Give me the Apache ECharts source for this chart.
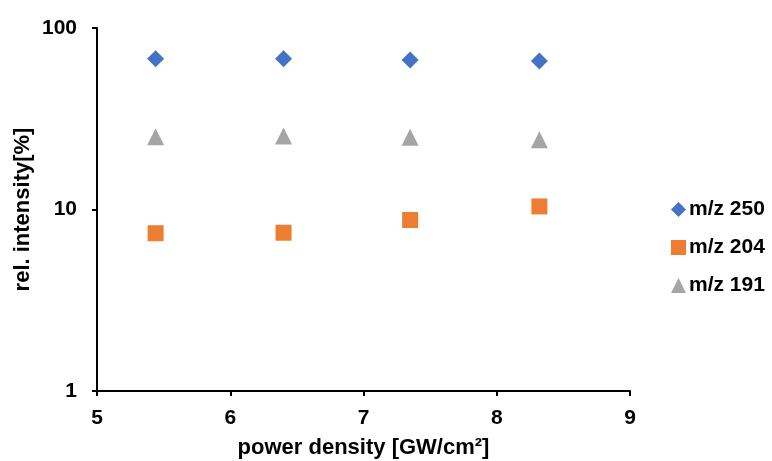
<!DOCTYPE html>
<html>
<head>
<meta charset="utf-8">
<script src="https://cdn.jsdelivr.net/npm/echarts@6/dist/echarts.min.js"></script>
<style>
  html, body { margin: 0; padding: 0; background: #fff; }
  #chart { width: 772px; height: 461px; }
</style>
</head>
<body>
<div id="chart"></div>
<script>
// Power density values [GW/cm²]
const powerDensity = [5.44, 6.40, 7.35, 8.32];
// Relative intensities [%] for each fragment
const mz250 = [67.8, 67.6, 66.6, 65.8];
const mz204 = [7.4, 7.45, 8.75, 10.4];
const mz191 = [25.2, 25.4, 25.0, 24.2];

const seriesNames = ['m/z 250', 'm/z 204', 'm/z 191'];
const seriesColors = ['#4472C4', '#ED7D31', '#A5A5A5'];
const seriesSymbols = ['diamond', 'rect', 'triangle'];
const seriesValues = [mz250, mz204, mz191];

const font = 'Liberation Sans, Arial, sans-serif';

const chart = echarts.init(document.getElementById('chart'));
chart.setOption({
  animation: false,
  grid: { left: 97, right: 142, top: 28, bottom: 70, containLabel: false, outerBoundsMode: 'none' },
  legend: {
    orient: 'vertical',
    left: 666,
    top: 194,
    itemGap: 17,
    itemWidth: 15,
    itemHeight: 15,
    textStyle: { fontFamily: font, fontWeight: 'bold', fontSize: 21, color: '#000', padding: [0, 0, 0, -2] },
    data: seriesNames.map((n, i) => ({ name: n, icon: seriesSymbols[i] }))
  },
  xAxis: {
    type: 'value',
    min: 5, max: 9, interval: 1,
    name: 'power density [GW/cm²]',
    nameLocation: 'middle',
    nameGap: 46,
    nameMoveOverlap: false,
    nameTextStyle: { fontFamily: font, fontWeight: 'bold', fontSize: 22, color: '#000' },
    axisLine: { lineStyle: { color: '#000', width: 2 } },
    axisTick: { show: true, length: 5, lineStyle: { color: '#000', width: 2 } },
    axisLabel: { fontFamily: font, fontWeight: 'bold', fontSize: 21, color: '#000', margin: 17 },
    splitLine: { show: false }
  },
  yAxis: {
    type: 'log',
    logBase: 10,
    min: 1, max: 100,
    name: 'rel. intensity[%]',
    nameLocation: 'middle',
    nameGap: 63,
    nameMoveOverlap: false,
    nameRotate: 90,
    nameTextStyle: { fontFamily: font, fontWeight: 'bold', fontSize: 22, color: '#000' },
    axisLine: { show: true, lineStyle: { color: '#000', width: 2 } },
    axisTick: { show: true, length: 5, lineStyle: { color: '#000', width: 2 } },
    axisLabel: { fontFamily: font, fontWeight: 'bold', fontSize: 21, color: '#000', margin: 20 },
    minorTick: { show: false },
    splitLine: { show: false }
  },
  series: seriesNames.map((name, i) => ({
    name: name,
    type: 'scatter',
    symbol: seriesSymbols[i],
    symbolSize: seriesSymbols[i] === 'rect' ? 16 : 17,
    itemStyle: { color: seriesColors[i], opacity: 1 },
    data: powerDensity.map((x, j) => [x, seriesValues[i][j]])
  }))
});
</script>
</body>
</html>
